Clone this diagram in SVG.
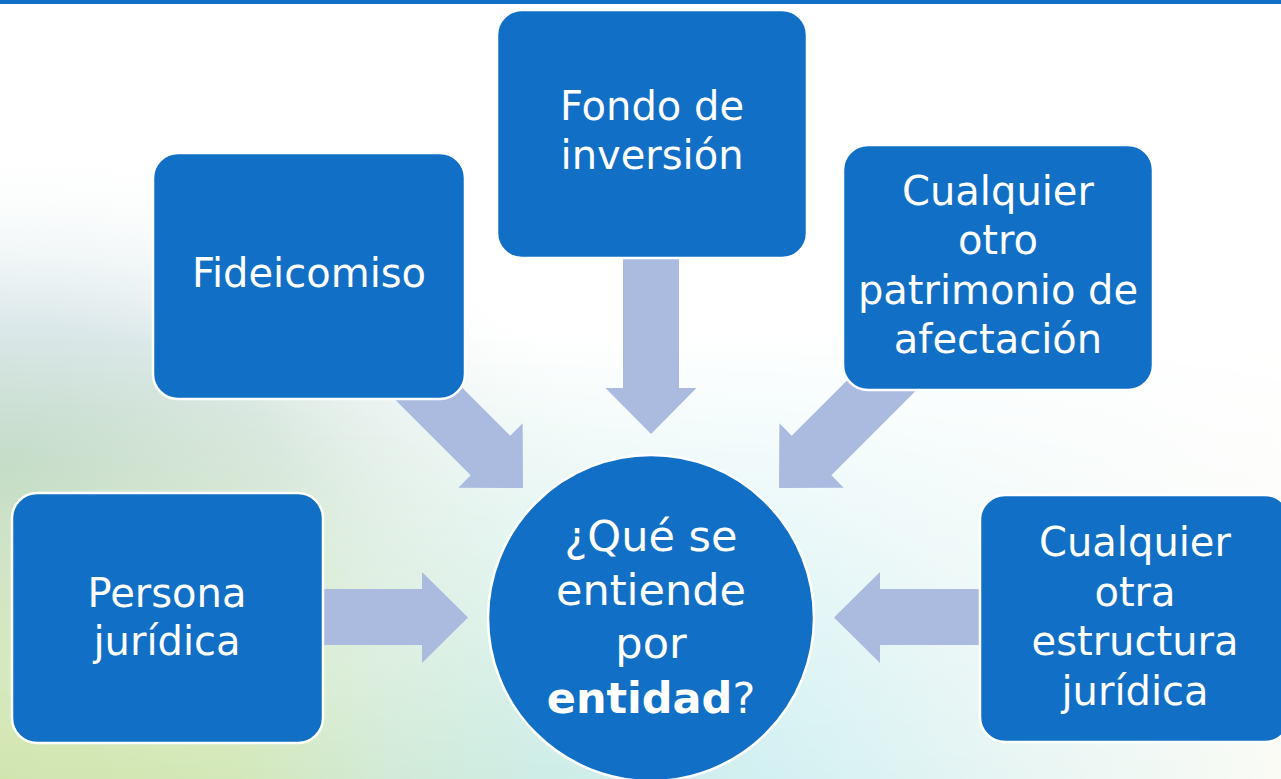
<svg xmlns="http://www.w3.org/2000/svg" width="1281" height="779" viewBox="0 0 1281 779">
<defs>
<style>
.box{fill:#1170C6;stroke:#FFFFFF;stroke-width:2.5}
.arrow{fill:#ABBBDF}
.lbl{font-family:"DejaVu Sans","Liberation Sans",sans-serif;font-size:40px;fill:#FFFFFF;text-anchor:middle}
.ctr{font-family:"DejaVu Sans","Liberation Sans",sans-serif;font-size:43px;fill:#FFFFFF;text-anchor:middle}
</style>
<linearGradient id="band" x1="0" y1="0" x2="1281" y2="0" gradientUnits="userSpaceOnUse">
<stop offset="0" stop-color="#D0E5AE"/>
<stop offset="0.18" stop-color="#D3E8B8"/>
<stop offset="0.3" stop-color="#D2EAD6"/>
<stop offset="0.42" stop-color="#CDEDE6"/>
<stop offset="0.6" stop-color="#D2F0F2"/>
<stop offset="0.78" stop-color="#E6F5F3"/>
<stop offset="1" stop-color="#FAFBF5"/>
</linearGradient>
<linearGradient id="vfade" x1="0" y1="330" x2="0" y2="779" gradientUnits="userSpaceOnUse">
<stop offset="0" stop-color="#FFFFFF" stop-opacity="0"/>
<stop offset="0.55" stop-color="#FFFFFF" stop-opacity="0.6"/>
<stop offset="1" stop-color="#FFFFFF" stop-opacity="1"/>
</linearGradient>
<mask id="bandMask" maskUnits="userSpaceOnUse" x="0" y="0" width="1281" height="779">
<rect x="0" y="0" width="1281" height="779" fill="url(#vfade)"/>
</mask>
<radialGradient id="leftGlow" cx="0" cy="470" r="1" gradientUnits="userSpaceOnUse" gradientTransform="translate(0 470) scale(620 330) translate(0 -470)">
<stop offset="0" stop-color="#BFD8D3"/>
<stop offset="0.45" stop-color="#D3E3E5" stop-opacity="0.8"/>
<stop offset="1" stop-color="#FFFFFF" stop-opacity="0"/>
</radialGradient>
</defs>
<rect x="0" y="0" width="1281" height="779" fill="#FFFFFF"/>
<rect x="0" y="0" width="1281" height="779" fill="url(#leftGlow)"/>
<rect x="0" y="0" width="1281" height="779" fill="url(#band)" mask="url(#bandMask)"/>
<rect x="0" y="0" width="1281" height="4" fill="#1170C6"/>

<g id="connectors">
<polygon class="arrow" points="318,589 422,589 422,572 468,617.5 422,663 422,645 318,645"/>
<polygon class="arrow" points="986,589 880,589 880,572 834,617.5 880,663 880,645 986,645"/>
<polygon class="arrow" points="623,250 679,250 679,388 696.5,388 651,434 605.5,388 623,388"/>
<polygon class="arrow" points="399.8,325.2 510.27,435.67 522.64,423.3 523,488 458.3,487.64 470.67,475.27 360.2,364.8"/>
<polygon class="arrow" points="902.2,325.2 791.73,435.67 779.36,423.3 779,488 843.7,487.64 831.33,475.27 941.8,364.8"/>
</g>

<g id="node-fondo">
<rect class="box" x="497" y="10" width="310" height="248" rx="25"/>
<text class="lbl" x="652" y="120">Fondo de</text>
<text class="lbl" x="652" y="169">inversión</text>
</g>
<g id="node-fideicomiso">
<rect class="box" x="153" y="153" width="312" height="246" rx="25"/>
<text class="lbl" x="309" y="287">Fideicomiso</text>
</g>
<g id="node-patrimonio">
<rect class="box" x="843" y="145" width="310" height="245" rx="25"/>
<text class="lbl" x="998" y="205">Cualquier</text>
<text class="lbl" x="998" y="254">otro</text>
<text class="lbl" x="998" y="304">patrimonio de</text>
<text class="lbl" x="998" y="353">afectación</text>
</g>
<g id="node-persona">
<rect class="box" x="12" y="493" width="311" height="250" rx="25"/>
<text class="lbl" x="167" y="607">Persona</text>
<text class="lbl" x="167" y="655">jurídica</text>
</g>
<g id="node-estructura">
<rect class="box" x="980" y="495" width="310" height="247" rx="25"/>
<text class="lbl" x="1135" y="556">Cualquier</text>
<text class="lbl" x="1135" y="606">otra</text>
<text class="lbl" x="1135" y="655">estructura</text>
<text class="lbl" x="1135" y="705">jurídica</text>
</g>
<g id="node-center">
<circle cx="651" cy="618" r="163" fill="#1170C6" stroke="#FFFFFF" stroke-width="2.5"/>
<text class="ctr" x="651" y="551">¿Qué se</text>
<text class="ctr" x="651" y="605">entiende</text>
<text class="ctr" x="651" y="658">por</text>
<text class="ctr" x="651" y="713"><tspan font-weight="bold">entidad</tspan>?</text>
</g>
</svg>
